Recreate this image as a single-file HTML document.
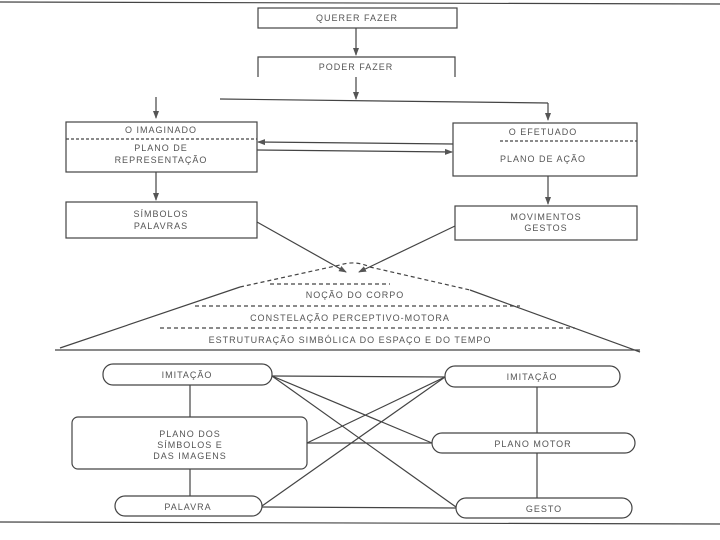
<!DOCTYPE html>
<html><head><meta charset="utf-8"><style>
body{margin:0;background:#fff}
svg{display:block}
text{font-family:"Liberation Sans",sans-serif;font-size:9px;fill:#555;text-anchor:middle;letter-spacing:1px}
</style></head><body>
<svg width="720" height="540" viewBox="0 0 720 540" xmlns="http://www.w3.org/2000/svg">
<defs><marker id="a" markerWidth="8" markerHeight="8" refX="7" refY="4" orient="auto" markerUnits="userSpaceOnUse"><path d="M0,1 L8,4 L0,7 Z" fill="#555"/></marker></defs>
<g stroke="#444" stroke-width="1.2" fill="none">
<line x1="0" y1="2" x2="720" y2="4"/>
<rect x="258" y="8" width="199" height="20"/>
<line x1="356" y1="28" x2="356" y2="55" marker-end="url(#a)"/>
<path d="M258,77 V57 H455 V77"/>
<line x1="356" y1="77" x2="356" y2="99" marker-end="url(#a)"/>
<line x1="220" y1="99" x2="548" y2="103"/>
<line x1="548" y1="103" x2="548" y2="120" marker-end="url(#a)"/>
<line x1="156" y1="97" x2="156" y2="118" marker-end="url(#a)"/>
<rect x="66" y="122" width="191" height="50"/>
<line x1="66" y1="139" x2="257" y2="139" stroke-dasharray="3,2"/>
<rect x="453" y="123" width="184" height="53"/>
<line x1="500" y1="141" x2="637" y2="141" stroke-dasharray="3,2"/>
<line x1="453" y1="144" x2="258" y2="142" marker-end="url(#a)"/>
<line x1="257" y1="150" x2="452" y2="152" marker-end="url(#a)"/>
<line x1="156" y1="172" x2="156" y2="200" marker-end="url(#a)"/>
<rect x="66" y="202" width="191" height="36"/>
<line x1="548" y1="176" x2="548" y2="204" marker-end="url(#a)"/>
<rect x="455" y="206" width="182" height="34"/>
<line x1="257" y1="222" x2="346" y2="272" marker-end="url(#a)"/>
<line x1="455" y1="226" x2="359" y2="272" marker-end="url(#a)"/>
<line x1="60" y1="348" x2="240" y2="287"/>
<path d="M240,287 L340,265 Q355,260 370,267 L470,290" stroke-dasharray="4,3"/>
<line x1="470" y1="290" x2="640" y2="352"/>
<line x1="270" y1="284" x2="390" y2="284" stroke-dasharray="4,3"/>
<line x1="195" y1="306" x2="520" y2="306" stroke-dasharray="4,3"/>
<line x1="160" y1="328" x2="575" y2="328" stroke-dasharray="4,3"/>
<line x1="55" y1="350" x2="640" y2="350"/>
<rect x="103" y="364" width="169" height="21" rx="10"/>
<rect x="445" y="366" width="175" height="21" rx="10"/>
<rect x="72" y="417" width="235" height="52" rx="6"/>
<rect x="432" y="433" width="203" height="20" rx="10"/>
<rect x="115" y="496" width="147" height="20" rx="10"/>
<rect x="456" y="498" width="176" height="20" rx="10"/>
<line x1="190" y1="385" x2="190" y2="417"/>
<line x1="190" y1="469" x2="190" y2="496"/>
<line x1="537" y1="387" x2="537" y2="433"/>
<line x1="537" y1="453" x2="537" y2="498"/>
<line x1="272" y1="376" x2="445" y2="377"/>
<line x1="272" y1="376" x2="432" y2="443"/>
<line x1="272" y1="376" x2="456" y2="507"/>
<line x1="445" y1="377" x2="307" y2="443"/>
<line x1="445" y1="377" x2="262" y2="506"/>
<line x1="307" y1="443" x2="432" y2="443"/>
<line x1="262" y1="507" x2="456" y2="508"/>
<line x1="0" y1="522" x2="720" y2="524"/>
</g>
<text x="357" y="21">QUERER FAZER</text>
<text x="356" y="70">PODER FAZER</text>
<text x="161" y="133">O IMAGINADO</text>
<text x="161" y="151">PLANO DE</text>
<text x="161" y="163">REPRESENTAÇÃO</text>
<text x="543" y="135">O EFETUADO</text>
<text x="543" y="162">PLANO DE AÇÃO</text>
<text x="161" y="217">SÍMBOLOS</text>
<text x="161" y="229">PALAVRAS</text>
<text x="546" y="220">MOVIMENTOS</text>
<text x="546" y="231">GESTOS</text>
<text x="355" y="298">NOÇÃO DO CORPO</text>
<text x="350" y="321">CONSTELAÇÃO PERCEPTIVO-MOTORA</text>
<text x="350" y="343">ESTRUTURAÇÃO SIMBÓLICA DO ESPAÇO E DO TEMPO</text>
<text x="187" y="378">IMITAÇÃO</text>
<text x="532" y="380">IMITAÇÃO</text>
<text x="190" y="437">PLANO DOS</text>
<text x="190" y="448">SÍMBOLOS E</text>
<text x="190" y="459">DAS IMAGENS</text>
<text x="533" y="447">PLANO MOTOR</text>
<text x="188" y="510">PALAVRA</text>
<text x="544" y="512">GESTO</text>
</svg>
</body></html>
